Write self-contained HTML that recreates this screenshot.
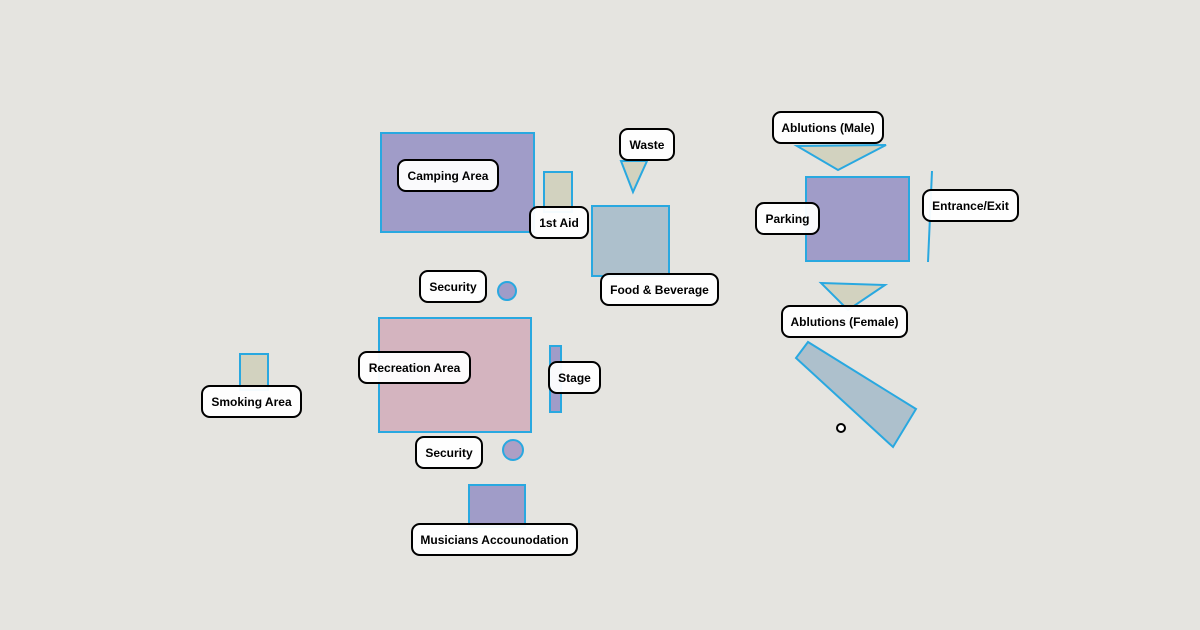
<!DOCTYPE html>
<html><head><meta charset="utf-8"><style>
html,body{margin:0;padding:0;background:#e5e4e0;}
svg{display:block;}
text{font-family:"Liberation Sans",Arial,sans-serif;font-weight:bold;font-size:12px;fill:#000;}
.s{stroke:#29a8e0;stroke-width:2;}
.l rect{fill:#fff;fill-opacity:0.95;stroke:#000;stroke-width:2;}
</style></head><body>
<svg width="1200" height="630" viewBox="0 0 1200 630">
<rect width="1200" height="630" fill="#e5e4e0"/>
<rect class="s" x="381" y="133" width="153" height="99" fill="#a09cc8"/>
<rect class="s" x="544" y="172" width="28" height="40" fill="#d2d2bf"/>
<polygon class="s" points="621,161 647,161 633,192" fill="#d2d2bf"/>
<rect class="s" x="592" y="206" width="77" height="70" fill="#adc0cc"/>
<circle class="s" cx="507" cy="291" r="9" fill="#a09cc8"/>
<rect class="s" x="379" y="318" width="152" height="114" fill="#d4b4bf"/>
<rect class="s" x="550" y="346" width="11" height="66" fill="#a09cc8"/>
<circle class="s" cx="513" cy="450" r="10" fill="#ad9fc5"/>
<rect class="s" x="240" y="354" width="28" height="36" fill="#d2d2bf"/>
<rect class="s" x="469" y="485" width="56" height="42" fill="#a09cc8"/>
<rect class="s" x="806" y="177" width="103" height="84" fill="#a09cc8"/>
<polygon class="s" points="797,146 886,145 838,170" fill="#d2d2bf"/>
<line class="s" x1="932" y1="171" x2="928" y2="262"/>
<polygon class="s" points="821,283 885,285 848,310" fill="#d2d2bf"/>
<polygon class="s" points="808,342 796,358 893,447 916,409" fill="#adc0cc"/>
<circle cx="841" cy="428" r="4" fill="#fff" stroke="#000" stroke-width="2"/>
<g class="l">
<rect x="398" y="160" width="100" height="31" rx="8"/><text x="448" y="180" text-anchor="middle">Camping Area</text>
<rect x="530" y="207" width="58" height="31" rx="8"/><text x="559" y="227" text-anchor="middle">1st Aid</text>
<rect x="620" y="129" width="54" height="31" rx="8"/><text x="647" y="149" text-anchor="middle">Waste</text>
<rect x="601" y="274" width="117" height="31" rx="8"/><text x="659.5" y="294" text-anchor="middle">Food &amp; Beverage</text>
<rect x="420" y="271" width="66" height="31" rx="8"/><text x="453" y="291" text-anchor="middle">Security</text>
<rect x="359" y="352" width="111" height="31" rx="8"/><text x="414.5" y="372" text-anchor="middle">Recreation Area</text>
<rect x="549" y="362" width="51" height="31" rx="8"/><text x="574.5" y="382" text-anchor="middle">Stage</text>
<rect x="202" y="386" width="99" height="31" rx="8"/><text x="251.5" y="406" text-anchor="middle">Smoking Area</text>
<rect x="416" y="437" width="66" height="31" rx="8"/><text x="449" y="457" text-anchor="middle">Security</text>
<rect x="412" y="524" width="165" height="31" rx="8"/><text x="494.5" y="544" text-anchor="middle">Musicians Accounodation</text>
<rect x="773" y="112" width="110" height="31" rx="8"/><text x="828" y="132" text-anchor="middle">Ablutions (Male)</text>
<rect x="756" y="203" width="63" height="31" rx="8"/><text x="787.5" y="223" text-anchor="middle">Parking</text>
<rect x="923" y="190" width="95" height="31" rx="8"/><text x="970.5" y="210" text-anchor="middle">Entrance/Exit</text>
<rect x="782" y="306" width="125" height="31" rx="8"/><text x="844.5" y="326" text-anchor="middle">Ablutions (Female)</text>
</g>
</svg>
</body></html>
